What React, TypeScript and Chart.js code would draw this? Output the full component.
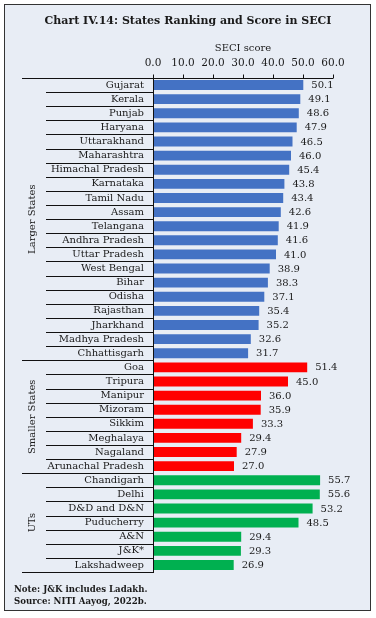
import React, { useEffect, useRef } from "react";
import { Chart, registerables } from "chart.js";
Chart.register(...registerables);

const categories = [
  "Gujarat", "Kerala", "Punjab", "Haryana", "Uttarakhand", "Maharashtra", "Himachal Pradesh",
  "Karnataka", "Tamil Nadu", "Assam", "Telangana", "Andhra Pradesh", "Uttar Pradesh",
  "West Bengal", "Bihar", "Odisha", "Rajasthan", "Jharkhand", "Madhya Pradesh", "Chhattisgarh",
  "Goa", "Tripura", "Manipur", "Mizoram", "Sikkim", "Meghalaya", "Nagaland", "Arunachal Pradesh",
  "Chandigarh", "Delhi", "D&D and D&N", "Puducherry", "A&N", "J&K*", "Lakshadweep",
];
const scores = [
  50.1, 49.1, 48.6, 47.9, 46.5, 46.0, 45.4, 43.8, 43.4, 42.6, 41.9, 41.6, 41.0,
  38.9, 38.3, 37.1, 35.4, 35.2, 32.6, 31.7,
  51.4, 45.0, 36.0, 35.9, 33.3, 29.4, 27.9, 27.0,
  55.7, 55.6, 53.2, 48.5, 29.4, 29.3, 26.9,
];
const groupNames = ["Larger States", "Smaller States", "UTs"];
const groupSizes = [20, 8, 7];
const groupColors = ["#4472C4", "#FF0000", "#00B050"];
const xTicks = [0, 10, 20, 30, 40, 50, 60];

const FONT = "'DejaVu Serif', serif";
const TEXT = "#1a1a1a";

export default function App() {
  const ref = useRef<HTMLCanvasElement>(null);
  useEffect(() => {
    const colors: string[] = [];
    groupSizes.forEach((n, g) => { for (let i = 0; i < n; i++) colors.push(groupColors[g]); });

    const overlay = {
      id: "overlay",
      afterDatasetsDraw(chart: any) {
        const { ctx, chartArea, scales } = chart;
        const x = scales.x;
        ctx.save();
        // value labels
        ctx.font = `10px ${FONT}`;
        ctx.fillStyle = TEXT;
        ctx.textBaseline = "middle";
        ctx.textAlign = "left";
        const meta = chart.getDatasetMeta(0);
        meta.data.forEach((bar: any, i: number) => {
          ctx.fillText(scores[i].toFixed(1), bar.x + 8, bar.y + 0.5);
        });
        // separators
        ctx.strokeStyle = "#111";
        ctx.lineWidth = 1;
        const n = categories.length;
        const step = (chartArea.bottom - chartArea.top) / n;
        const boundaries = new Set<number>();
        let acc = 0;
        groupSizes.forEach((s) => { acc += s; boundaries.add(acc); });
        for (let i = 1; i <= n; i++) {
          const yy = Math.round(chartArea.top + i * step) + 0.5;
          const x0 = boundaries.has(i) ? 22 : 46;
          ctx.beginPath();
          ctx.moveTo(x0, yy);
          ctx.lineTo(chartArea.left, yy);
          ctx.stroke();
        }
        // top axis line
        const ty = Math.round(chartArea.top) + 0.5;
        ctx.beginPath();
        ctx.moveTo(22, ty);
        ctx.lineTo(chartArea.right, ty);
        ctx.stroke();
        // vertical axis line
        const lx = Math.round(chartArea.left) + 0.5;
        ctx.beginPath();
        ctx.moveTo(lx, chartArea.top);
        ctx.lineTo(lx, Math.round(chartArea.bottom) + 1);
        ctx.stroke();
        // tick marks
        xTicks.forEach((t) => {
          const px = Math.round(x.getPixelForValue(t)) + 0.5;
          ctx.beginPath();
          ctx.moveTo(px, ty - 4);
          ctx.lineTo(px, ty);
          ctx.stroke();
        });
        // group labels
        ctx.font = `10px ${FONT}`;
        ctx.textAlign = "center";
        ctx.textBaseline = "middle";
        let start = 0;
        groupSizes.forEach((s, g) => {
          const cy = chartArea.top + (start + s / 2) * step;
          ctx.save();
          ctx.translate(32, cy);
          ctx.rotate(-Math.PI / 2);
          ctx.fillText(groupNames[g], 0, 0);
          ctx.restore();
          start += s;
        });
        ctx.restore();
      },
    };

    const chart = new Chart(ref.current!, {
      type: "bar",
      data: {
        labels: categories,
        datasets: [{
          data: scores,
          backgroundColor: colors,
          barPercentage: 0.7,
          categoryPercentage: 1,
        }],
      },
      options: {
        indexAxis: "y",
        animation: false,
        responsive: false,
        maintainAspectRatio: false,
        layout: { padding: { top: 38, right: 43, bottom: 46, left: 0 } },
        plugins: { legend: { display: false }, tooltip: { enabled: false } },
        scales: {
          x: {
            position: "top",
            min: 0,
            max: 60,
            afterBuildTicks: (s: any) => { s.ticks = xTicks.map((v) => ({ value: v })); },
            afterFit: (s: any) => { s.height = 40; },
            ticks: {
              color: TEXT,
              font: { family: FONT, size: 10.5 },
              padding: 4,
              maxRotation: 0,
              callback: (v: any) => Number(v).toFixed(1),
            },
            grid: { display: true, drawOnChartArea: false, drawTicks: true, tickLength: 4, color: "rgba(0,0,0,0)" },
            border: { display: false },
            title: {
              display: true,
              text: "SECI score",
              color: TEXT,
              font: { family: FONT, size: 10 },
              padding: { top: 4, bottom: 0 },
            },
          },
          y: {
            afterFit: (s: any) => { s.width = 153; },
            ticks: {
              color: TEXT,
              font: { family: FONT, size: 10 },
              padding: 9,
              autoSkip: false,
            },
            grid: { display: false, drawTicks: false },
            border: { display: false },
          },
        },
      },
      plugins: [overlay],
    });
    return () => chart.destroy();
  }, []);

  return (
    <div style={{ position: "absolute", left: 0, top: 0, width: 376, height: 618, background: "#fff" }}>
      <div style={{
        position: "absolute", left: 4, top: 4, width: 365, height: 605,
        border: "1.5px solid #333", background: "#E8EDF5",
      }} />
      <canvas ref={ref} width={376} height={618} style={{ position: "absolute", left: 0, top: 0, width: 376, height: 618 }} />
      <div style={{
        position: "absolute", left: 0, top: 14, width: 376, textAlign: "center",
        fontFamily: FONT, fontWeight: "bold", fontSize: 11, color: TEXT,
      }}>Chart IV.14: States Ranking and Score in SECI</div>
      <div style={{
        position: "absolute", left: 14, top: 583, fontFamily: FONT, fontWeight: "bold",
        fontSize: 8.6, color: TEXT, lineHeight: "12px",
      }}>
        <div>Note: J&amp;K includes Ladakh.</div>
        <div>Source: NITI Aayog, 2022b.</div>
      </div>
    </div>
  );
}
